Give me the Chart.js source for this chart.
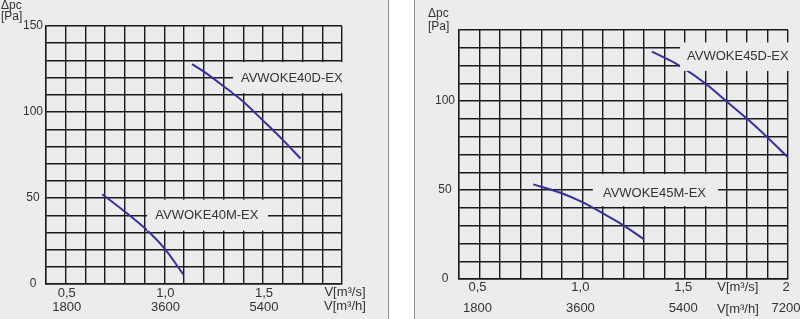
<!DOCTYPE html>
<html>
<head>
<meta charset="utf-8">
<script src="https://cdn.jsdelivr.net/npm/chart.js@4.4.0/dist/chart.umd.min.js"></script>
<style>
  html, body { margin: 0; padding: 0; background: #fff; }
  body { width: 800px; height: 319px; position: relative; overflow: hidden; }
  .panel { position: absolute; top: 0; height: 319px; background: #ececec; }
  #pl { left: 0; width: 388px; border-right: 1px solid #8c8c8c; }
  #pr { left: 414px; width: 385px; border-left: 1px solid #8c8c8c; }
  canvas { display: block; }
</style>
</head>
<body>
<div class="panel" id="pl"><canvas id="cl" width="388" height="319"></canvas></div>
<div class="panel" id="pr"><canvas id="cr" width="385" height="319"></canvas></div>
<script>
'use strict';

// ── Data ──────────────────────────────────────────────────────
// left panel: AVWOKE40
const L_Q_40D = [1.14, 1.2, 1.3, 1.4, 1.5, 1.6, 1.69];
const L_P_40D = [127.8, 123.5, 115, 106, 95, 83.8, 73];
const L_Q_40M = [0.685, 0.8, 0.9, 1.0, 1.096];
const L_P_40M = [52.2, 42, 32.5, 20.7, 5.6];
// right panel: AVWOKE45
const R_Q_45D = [1.338, 1.467, 1.6, 1.7, 1.8, 1.9, 2.0];
const R_P_45D = [127.8, 120.3, 109.8, 100, 90.2, 79.6, 68.4];
const R_Q_45M = [0.761, 0.8, 0.9, 1.0, 1.1, 1.2, 1.3];
const R_P_45M = [53.2, 51.9, 48.2, 43.2, 36.9, 30.2, 22.3];

// tick labels
const L_X_VALUES = [0.5, 1.0, 1.5];
const L_X_M3S    = ['0,5', '1,0', '1,5'];
const L_X_M3H    = ['1800', '3600', '5400'];
const L_Y_VALUES = [0, 50, 100, 150];
const R_X_VALUES = [0.5, 1.0, 1.5, 2.0];
const R_X_M3S    = ['0,5', '1,0', '1,5', '2'];
const R_X_M3H    = ['1800', '3600', '5400', '7200'];
const R_Y_VALUES = [0, 50, 100];

// ── Style ─────────────────────────────────────────────────────
const BG    = '#ececec';
const GRID  = '#1a1a1a';
const CURVE = '#352fa0';
const TEXT  = '#333333';
const FONT  = "'Liberation Sans', Arial, sans-serif";

function pts(xs, ys) {
  return xs.map((x, i) => ({ x: x, y: ys[i] }));
}

function findIdx(list, v) {
  return list.findIndex(t => Math.abs(t - v) < 1e-6);
}

// label boxes + axis unit texts
const annotatePlugin = {
  id: 'annotate',
  afterDraw(chart, args, opts) {
    const { ctx, scales: { x, y } } = chart;
    ctx.save();
    ctx.font = `13px ${FONT}`;
    ctx.textBaseline = 'middle';
    ctx.textAlign = 'left';
    (opts.boxes || []).forEach(b => {
      const x0 = x.getPixelForValue(b.x0), x1 = x.getPixelForValue(b.x1);
      const y0 = y.getPixelForValue(b.y1), y1 = y.getPixelForValue(b.y0);
      ctx.fillStyle = BG;
      ctx.fillRect(x0, y0, x1 - x0, y1 - y0);
      ctx.fillStyle = TEXT;
      ctx.fillText(b.text, x.getPixelForValue(b.tx), y.getPixelForValue(b.ty));
    });
    // axis units
    ctx.fillStyle = TEXT;
    ctx.font = `12px ${FONT}`;
    ctx.fillText('\u0394pc', opts.yTitle[0], opts.yTitle[1]);
    ctx.fillText('[Pa]', opts.yTitle[0], opts.yTitle[2]);
    ctx.font = `13px ${FONT}`;
    ctx.textAlign = 'center';
    const ux = x.getPixelForValue(opts.unitX);
    ctx.fillText('V[m\u00b3/s]', ux, opts.unitY[0]);
    ctx.fillText('V[m\u00b3/h]', ux, opts.unitY[1]);
    ctx.restore();
  }
};

function makeChart(id, c) {
  const datasets = c.curves.map(d => ({
    data: d,
    showLine: true,
    borderColor: CURVE,
    borderWidth: 2,
    pointRadius: 0,
    cubicInterpolationMode: 'monotone',
    fill: false,
  }));

  return new Chart(document.getElementById(id), {
    type: 'scatter',
    data: { datasets },
    options: {
      responsive: false,
      animation: false,
      events: [],
      layout: { padding: { left: 0, right: c.rightPad, top: c.topPad, bottom: 0 } },
      plugins: {
        legend: { display: false },
        tooltip: { enabled: false },
        annotate: { boxes: c.boxes, yTitle: c.yTitle, unitX: c.unitX, unitY: c.unitY },
      },
      scales: {
        x: {
          type: 'linear',
          min: 0.4,
          max: c.xMax,
          afterFit(s) { s.height = c.xAxisH; s.paddingLeft = 0; s.paddingRight = 0; },
          grid:   { color: GRID, lineWidth: 1.4, drawTicks: false },
          border: { color: GRID, width: 1.4 },
          ticks: {
            stepSize: 0.1,
            autoSkip: false,
            maxRotation: 0,
            minRotation: 0,
            padding: c.xTickPad,
            labelOffset: c.xLabelOffset,
            color: TEXT,
            font: { family: FONT, size: 13, lineHeight: c.xLineH + 'px' },
            callback: v => {
              const i = findIdx(c.xValues, v);
              return i < 0 ? '' : [c.xM3s[i], c.xM3h[i]];
            },
          },
        },
        y: {
          type: 'linear',
          min: 0,
          max: c.yMax,
          afterFit(s) { s.width = c.yAxisW; s.paddingTop = 0; s.paddingBottom = 0; },
          grid:   { color: GRID, lineWidth: 1.4, drawTicks: false },
          border: { color: GRID, width: 1.4 },
          ticks: {
            stepSize: 10,
            autoSkip: false,
            crossAlign: 'center',
            padding: c.yTickPad,
            color: TEXT,
            font: { family: FONT, size: 12 },
            callback: v => findIdx(c.yValues, v) < 0 ? '' : String(v),
          },
        },
      },
    },
    plugins: [annotatePlugin],
  });
}

makeChart('cl', {
  xMax: 1.9, yMax: 150,
  yAxisW: 46, rightPad: 46, topPad: 26, xAxisH: 35,
  xTickPad: 2, xLineH: 14, yTickPad: 3, xLabelOffset: 1,
  xValues: L_X_VALUES, xM3s: L_X_M3S, xM3h: L_X_M3H, yValues: L_Y_VALUES,
  curves: [pts(L_Q_40D, L_P_40D), pts(L_Q_40M, L_P_40M)],
  boxes: [
    { text: 'AVWOKE40D-EX', x0: 1.348, x1: 1.93, y0: 111, y1: 129, tx: 1.388, ty: 119.6 },
    { text: 'AVWOKE40M-EX', x0: 0.912, x1: 1.525, y0: 31, y1: 49, tx: 0.954, ty: 40.1 },
  ],
  yTitle: [1, 6, 17],
  unitX: 1.915, unitY: [292.7, 306.7],
});

makeChart('cr', {
  xMax: 2.0, yMax: 140,
  yAxisW: 44, rightPad: 12, topPad: 30, xAxisH: 40,
  xTickPad: -2, xLineH: 21, yTickPad: 4, xLabelOffset: -2,
  xValues: R_X_VALUES, xM3s: R_X_M3S, xM3h: R_X_M3H, yValues: R_Y_VALUES,
  curves: [pts(R_Q_45D, R_P_45D), pts(R_Q_45M, R_P_45M)],
  boxes: [
    { text: 'AVWOKE45D-EX', x0: 1.475, x1: 2.02, y0: 117, y1: 133, tx: 1.509, ty: 125.2 },
    { text: 'AVWOKE45M-EX', x0: 1.051, x1: 1.66, y0: 41, y1: 59, tx: 1.10, ty: 48.2 },
  ],
  yTitle: [13, 14, 27],
  unitX: 1.756, unitY: [287.7, 309],
});
</script>
</body>
</html>
